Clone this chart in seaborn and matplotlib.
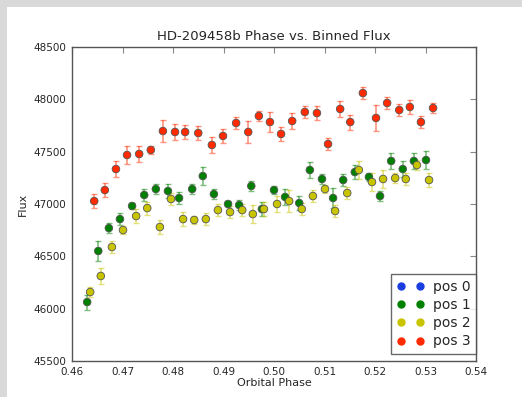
import pandas as pd
import matplotlib
matplotlib.use("Agg")
import matplotlib.pyplot as plt
from matplotlib.lines import Line2D
from matplotlib.patches import Rectangle
import seaborn as sns

# binned phase / flux / error for each position
phase_pos1 = [0.4630, 0.4652, 0.4673, 0.4695, 0.4719, 0.4743, 0.4766, 0.4790, 0.4812, 0.4838,
              0.4859, 0.4881, 0.4909, 0.4931, 0.4955, 0.4976, 0.5000, 0.5022, 0.5050, 0.5071,
              0.5095, 0.5117, 0.5137, 0.5160, 0.5188, 0.5210, 0.5232, 0.5255, 0.5277, 0.5301]
flux_pos1 = [46063, 46551, 46770, 46856, 46981, 47086, 47143, 47124, 47057, 47143,
             47267, 47095, 47000, 46990, 47172, 46952, 47133, 47067, 47009, 47325,
             47239, 47057, 47229, 47305, 47258, 47076, 47411, 47334, 47411, 47420]
err_pos1 = [71, 91, 50, 54, 30, 62, 48, 67, 54, 51,
            86, 45, 32, 48, 48, 70, 35, 75, 68, 80,
            45, 92, 60, 65, 40, 48, 76, 76, 75, 86]

phase_pos2 = [0.4636, 0.4657, 0.4679, 0.4701, 0.4727, 0.4749, 0.4774, 0.4796, 0.4820, 0.4842,
              0.4865, 0.4889, 0.4913, 0.4937, 0.4958, 0.4980, 0.5006, 0.5030, 0.5055, 0.5077,
              0.5101, 0.5121, 0.5145, 0.5168, 0.5194, 0.5216, 0.5240, 0.5261, 0.5283, 0.5307]
flux_pos2 = [46159, 46312, 46589, 46751, 46885, 46961, 46780, 47048, 46856, 46847,
             46856, 46942, 46923, 46942, 46904, 46952, 47000, 47028, 46952, 47076,
             47143, 46933, 47105, 47325, 47210, 47239, 47248, 47239, 47372, 47229]
err_pos2 = [52, 73, 54, 40, 64, 62, 64, 59, 64, 38,
            61, 56, 56, 56, 83, 69, 75, 106, 56, 59,
            35, 59, 61, 86, 83, 88, 48, 58, 48, 70]

phase_pos3 = [0.4644, 0.4665, 0.4687, 0.4709, 0.4733, 0.4756, 0.4780, 0.4804, 0.4824, 0.4850,
              0.4877, 0.4899, 0.4925, 0.4949, 0.4970, 0.4992, 0.5014, 0.5036, 0.5061, 0.5085,
              0.5107, 0.5131, 0.5151, 0.5176, 0.5202, 0.5224, 0.5248, 0.5269, 0.5291, 0.5315]
flux_pos3 = [47028, 47133, 47334, 47468, 47478, 47516, 47697, 47688, 47688, 47678,
             47564, 47650, 47774, 47688, 47841, 47783, 47669, 47793, 47879, 47869,
             47573, 47908, 47783, 48060, 47822, 47965, 47898, 47927, 47783, 47917]
err_pos3 = [64, 67, 76, 84, 78, 42, 103, 73, 67, 70,
            72, 64, 53, 103, 47, 96, 64, 72, 59, 64,
            61, 76, 72, 54, 122, 61, 56, 67, 59, 45]

pos_labels = ["pos 0", "pos 1", "pos 2", "pos 3"]
pos_colors = {"pos 0": "#1a3de0", "pos 1": "#008000", "pos 2": "#c8c400", "pos 3": "#ff2a00"}

frames = []
for lab, ph, fl, er in [("pos 1", phase_pos1, flux_pos1, err_pos1),
                        ("pos 2", phase_pos2, flux_pos2, err_pos2),
                        ("pos 3", phase_pos3, flux_pos3, err_pos3)]:
    frames.append(pd.DataFrame({"phase": ph, "flux": fl, "err": er, "pos": lab}))
df = pd.concat(frames, ignore_index=True)

sns.set_style("white")
plt.rcParams['font.family'] = ['DejaVu Sans']

fig = plt.figure(figsize=(5.22, 3.97), dpi=100, facecolor="#d9d9d9")
# white canvas inset, grey strip on top and left like the screenshot
fig.patches.append(Rectangle((7 / 522, 0), 1, 1 - 7 / 397, transform=fig.transFigure,
                             facecolor="white", edgecolor="none", zorder=-10))
ax = fig.add_axes([72 / 522, 1 - 361 / 397, (476 - 72) / 522, (361 - 47) / 397])

for lab in ["pos 1", "pos 2", "pos 3"]:
    sub = df[df["pos"] == lab]
    ax.errorbar(sub["phase"], sub["flux"], yerr=sub["err"], fmt="none",
                ecolor=pos_colors[lab], alpha=0.5, capsize=2.5, elinewidth=1.2, zorder=2)

sns.scatterplot(data=df, x="phase", y="flux", hue="pos", palette=pos_colors,
                s=30, edgecolor="#555555", linewidth=0.6, legend=False, ax=ax, zorder=3)

ax.set_xlim(0.46, 0.54)
ax.set_ylim(45500, 48500)
ax.set_xticks([0.46, 0.47, 0.48, 0.49, 0.50, 0.51, 0.52, 0.53, 0.54])
ax.set_yticks([45500, 46000, 46500, 47000, 47500, 48000, 48500])
ax.tick_params(direction="in", length=4, width=0.8, color="#888888",
               labelsize=7.5, top=True, right=True, pad=4)
for sp in ax.spines.values():
    sp.set_color("#555555")
    sp.set_linewidth(1.0)

ax.set_title("HD-209458b Phase vs. Binned Flux", fontsize=9.5, pad=5)
ax.set_xlabel("Orbital Phase", fontsize=8, labelpad=1)
ax.set_ylabel("Flux", fontsize=8, labelpad=4)

handles = [Line2D([0], [0], marker="o", linestyle="none", color=pos_colors[l],
                  markersize=5) for l in pos_labels]
leg = ax.legend(handles, pos_labels, loc="lower right", bbox_to_anchor=(1.0, 7 / 314),
                numpoints=2, fontsize=10, frameon=True, fancybox=False, borderaxespad=0,
                handletextpad=0.6, labelspacing=0.3, handlelength=2.0, borderpad=0.4)
leg.get_frame().set_edgecolor("#444444")
leg.get_frame().set_linewidth(1.0)

fig.savefig("out.png", dpi=100, facecolor=fig.get_facecolor())
